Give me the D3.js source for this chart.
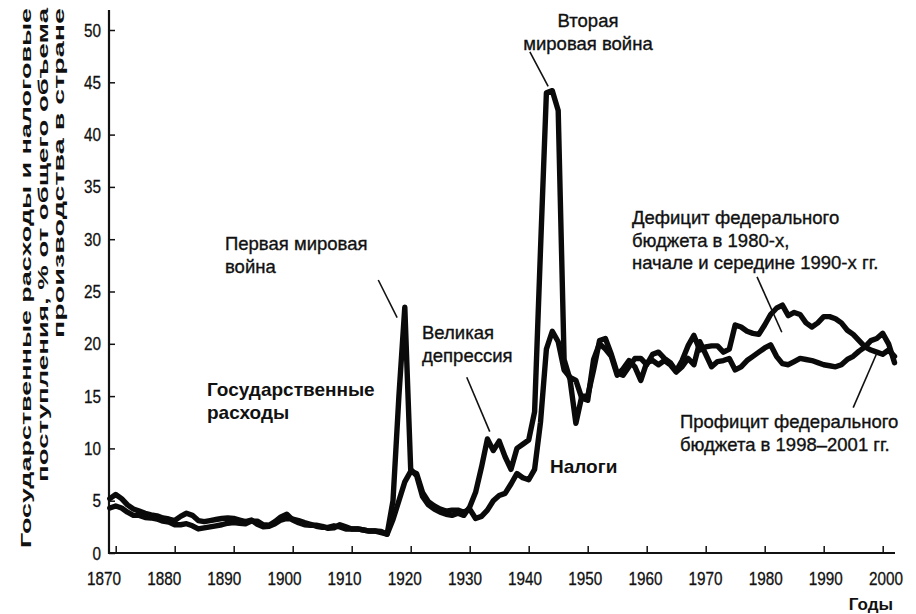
<!DOCTYPE html>
<html>
<head>
<meta charset="utf-8">
<script src="https://cdnjs.cloudflare.com/ajax/libs/d3/7.8.5/d3.min.js"></script>
<style>
  body { margin: 0; background: #fff; }
  svg { display: block; }
  .tick-label { font-family: "Liberation Sans", Arial, sans-serif; font-size: 18px; fill: #111; stroke: #111; stroke-width: 0.3px; }
  .note { font-family: "Liberation Sans", Arial, sans-serif; font-size: 18.5px; fill: #111; stroke: #111; stroke-width: 0.35px; }
  .note-bold { font-family: "Liberation Sans", Arial, sans-serif; font-size: 19px; font-weight: bold; fill: #111; }
  .y-title { font-family: "Liberation Sans", Arial, sans-serif; font-size: 15.5px; font-weight: bold; fill: #111; }
</style>
</head>
<body>
<div id="chart-area"></div>
<script>

// Years on the x axis (one value per year, 1869-2002)
var years = d3.range(1869, 2003);

// Government spending, % of GDP
var spending = [
  4.3, 4.5, 4.3, 3.9, 3.6, 3.6, 3.4, 3.35, 3.25, 3.05,
  2.95, 2.7, 2.7, 2.8, 2.6, 2.3, 2.4, 2.5, 2.6, 2.7,
  2.85, 2.9, 2.85, 2.8, 3.05, 3.05, 2.7, 2.65, 3.0, 3.45,
  3.7, 3.15, 2.9, 2.7, 2.65, 2.65, 2.55, 2.35, 2.4, 2.7,
  2.5, 2.3, 2.3, 2.2, 2.1, 2.1, 2.05, 1.8, 5.0, 15.0,
  23.5, 8.0, 7.4, 5.4, 4.6, 4.2, 3.9, 3.7, 3.6, 3.8,
  3.6, 4.4, 5.8, 8.2, 10.9, 9.8, 10.7, 9.2, 8.0, 10.0,
  10.4, 10.8, 13.5, 29.0, 44.0, 44.2, 42.3, 18.5, 16.6, 12.4,
  15.0, 15.0, 17.5, 20.3, 20.5, 19.0, 17.2, 17.0, 17.8, 18.6,
  18.6, 18.0, 19.0, 19.2, 18.6, 18.2, 17.4, 18.4, 19.8, 20.8,
  19.4, 19.7, 19.8, 19.8, 19.2, 19.5, 21.8, 21.6, 21.2, 21.0,
  20.9, 21.8, 22.8, 23.4, 23.7, 22.7, 23.0, 22.8, 22.0, 21.6,
  22.0, 22.6, 22.6, 22.4, 22.0, 21.3, 20.9, 20.3, 19.7, 19.4,
  19.2, 19.0, 19.4, 18.8
];

// Tax revenues, % of GDP
var taxes = [
  5.2, 5.6, 5.2, 4.6, 4.2, 4.0, 3.8, 3.65, 3.55, 3.35,
  3.25, 3.1, 3.5, 3.8, 3.6, 3.1, 3.0, 3.1, 3.2, 3.3,
  3.35, 3.3, 3.15, 3.0, 3.15, 2.75, 2.5, 2.55, 2.8, 3.15,
  3.3, 3.25, 3.1, 2.9, 2.75, 2.55, 2.45, 2.45, 2.6, 2.5,
  2.3, 2.3, 2.3, 2.2, 2.1, 2.1, 1.95, 1.8, 3.2, 5.0,
  6.8, 7.8, 7.6, 5.8, 4.9, 4.5, 4.2, 4.0, 4.1, 4.1,
  3.9, 4.2, 3.3, 3.5, 4.1, 5.0, 5.5, 5.7, 6.6, 7.6,
  7.2, 7.0, 8.0, 12.5, 19.5, 21.2, 20.2, 17.5, 16.8, 16.5,
  14.8, 14.6, 18.5, 20.0, 19.5, 18.8, 17.0, 17.6, 18.4, 17.8,
  16.5, 18.2, 18.4, 18.0, 18.4, 18.0, 17.3, 17.8, 18.6, 18.0,
  20.2, 19.0, 17.8, 18.3, 18.4, 18.6, 17.5, 17.8, 18.4, 18.8,
  19.2, 19.6, 19.9, 18.8, 18.1, 18.0, 18.3, 18.6, 18.5, 18.4,
  18.2, 18.0, 17.9, 17.8, 18.0, 18.5, 18.8, 19.3, 19.7, 20.3,
  20.5, 21.0, 20.0, 18.2
];

// Tick labels
var yearTicks = d3.range(1870, 2001, 10);
var pctTicks = d3.range(0, 51, 5);

// Axis titles
var yTitle = ["Государственные расходы и налоговые",
              "поступления, % от общего объема",
              "производства в стране"];
var xTitle = "Годы";

// Annotations: text lines, and the leader line in data units [year, %]
var notes = [
  { lines: ["Вторая", "мировая война"], x: 588, y: 27, anchor: "middle", bold: false,
    leader: [[1940.2, 47.9], [1943.3, 44.6]] },
  { lines: ["Первая мировая", "война"], x: 225, y: 250, anchor: "start", bold: false,
    leader: [[1914.5, 26.1], [1917.7, 22.5]] },
  { lines: ["Великая", "депрессия"], x: 422, y: 339, anchor: "start", bold: false,
    leader: [[1929.5, 16.8], [1933.4, 11.6]] },
  { lines: ["Государственные", "расходы"], x: 207, y: 396, anchor: "start", bold: true, leader: null },
  { lines: ["Налоги"], x: 550, y: 473, anchor: "start", bold: true, leader: null },
  { lines: ["Дефицит федерального", "бюджета в 1980-х,", "начале и середине 1990-х гг."],
    x: 632, y: 224, anchor: "start", bold: false,
    leader: [[1978.7, 26.4], [1982.9, 21.1]] },
  { lines: ["Профицит федерального", "бюджета в 1998–2001 гг."], x: 680, y: 428, anchor: "start", bold: false,
    leader: [[1995.0, 13.9], [1999.0, 19.1]] }
];

/*
 * LineChart - Object constructor function
 * @param _parentElement  -- the HTML element in which to draw the plot
 */
LineChart = function(_parentElement){
  this.parentElement = _parentElement;
  this.initVis();
}

LineChart.prototype.initVis = function(){
  var vis = this;

  vis.width = 916;
  vis.height = 614;

  vis.svg = d3.select("#" + vis.parentElement).append("svg")
    .attr("width", vis.width)
    .attr("height", vis.height);

  // Scales: the plot corner sits at x=109, y=553
  vis.x = d3.scaleLinear().domain([1870, 2000]).range([115.7, 882.7]);
  vis.y = d3.scaleLinear().domain([0, 50]).range([553, 30]);
  // the printed year labels are spread a little wider than the ticks
  vis.xLabel = d3.scaleLinear().domain([1870, 2000]).range([104, 886]);

  vis.wrangleData();
}

LineChart.prototype.wrangleData = function(){
  var vis = this;

  vis.series = [
    years.map(function(yr, i){ return { year: yr, value: taxes[i] }; }),
    years.map(function(yr, i){ return { year: yr, value: spending[i] }; })
  ];

  vis.updateVis();
}

LineChart.prototype.updateVis = function(){
  var vis = this;

  // Axes (ticks point inward)
  var xAxis = d3.axisTop(vis.x).tickValues(yearTicks).tickSize(7).tickFormat("");
  var yAxis = d3.axisRight(vis.y).tickValues(pctTicks).tickSize(6).tickFormat("");

  var gx = vis.svg.append("g")
    .attr("transform", "translate(0," + vis.y(0) + ")")
    .call(xAxis);
  gx.select(".domain").remove();
  gx.selectAll("line").attr("stroke", "#111").attr("stroke-width", 1.5);
  gx.append("line")
    .attr("x1", 109).attr("x2", 895)
    .attr("stroke", "#111").attr("stroke-width", 2.2);

  var gy = vis.svg.append("g")
    .attr("transform", "translate(109,0)")
    .call(yAxis);
  gy.select(".domain").remove();
  gy.selectAll("line").attr("stroke", "#111").attr("stroke-width", 1.5);
  gy.append("line")
    .attr("y1", 10).attr("y2", vis.y(0) + 1)
    .attr("stroke", "#111").attr("stroke-width", 2.2);

  // Tick labels (slightly condensed like the print)
  vis.svg.selectAll(".x-label")
    .data(yearTicks)
    .enter().append("text")
    .attr("class", "tick-label x-label")
    .attr("transform", function(d){ return "translate(" + vis.xLabel(d) + ",585) scale(0.85,1)"; })
    .attr("text-anchor", "middle")
    .text(function(d){ return d; });

  vis.svg.selectAll(".y-label")
    .data(pctTicks)
    .enter().append("text")
    .attr("class", "tick-label y-label")
    .attr("transform", function(d){ return "translate(101," + (vis.y(d) + 6.5) + ") scale(0.85,1)"; })
    .attr("text-anchor", "end")
    .text(function(d){ return d; });

  // Axis titles
  var yLens = [540, 474, 330];
  vis.svg.selectAll(".y-title")
    .data(yTitle)
    .enter().append("text")
    .attr("class", "y-title")
    .attr("transform", function(d, i){ return "translate(" + (31 + i * 16.5) + ",8) rotate(-90)"; })
    .attr("text-anchor", "end")
    .attr("textLength", function(d, i){ return yLens[i]; })
    .attr("lengthAdjust", "spacingAndGlyphs")
    .text(function(d){ return d; });

  vis.svg.append("text")
    .attr("class", "note-bold")
    .attr("x", 893).attr("y", 610)
    .attr("text-anchor", "end")
    .style("font-size", "17px")
    .text(xTitle);

  // Lines
  var line = d3.line()
    .x(function(d){ return vis.x(d.year); })
    .y(function(d){ return vis.y(d.value); });

  vis.svg.selectAll(".series")
    .data(vis.series)
    .enter().append("path")
    .attr("class", "series")
    .attr("d", line)
    .attr("fill", "none")
    .attr("stroke", "#0a0a0a")
    .attr("stroke-width", 5.4)
    .attr("stroke-linejoin", "round")
    .attr("stroke-linecap", "round");

  // Annotations
  notes.forEach(function(n){
    var t = vis.svg.append("text")
      .attr("class", n.bold ? "note-bold" : "note")
      .attr("text-anchor", n.anchor);
    n.lines.forEach(function(s, i){
      t.append("tspan")
        .attr("x", n.x)
        .attr("y", n.y + i * 22.5)
        .text(s);
    });
    if (n.leader) {
      vis.svg.append("line")
        .attr("x1", vis.x(n.leader[0][0])).attr("y1", vis.y(n.leader[0][1]))
        .attr("x2", vis.x(n.leader[1][0])).attr("y2", vis.y(n.leader[1][1]))
        .attr("stroke", "#111").attr("stroke-width", 1.6);
    }
  });
}

var chart = new LineChart("chart-area");

</script>
</body>
</html>
